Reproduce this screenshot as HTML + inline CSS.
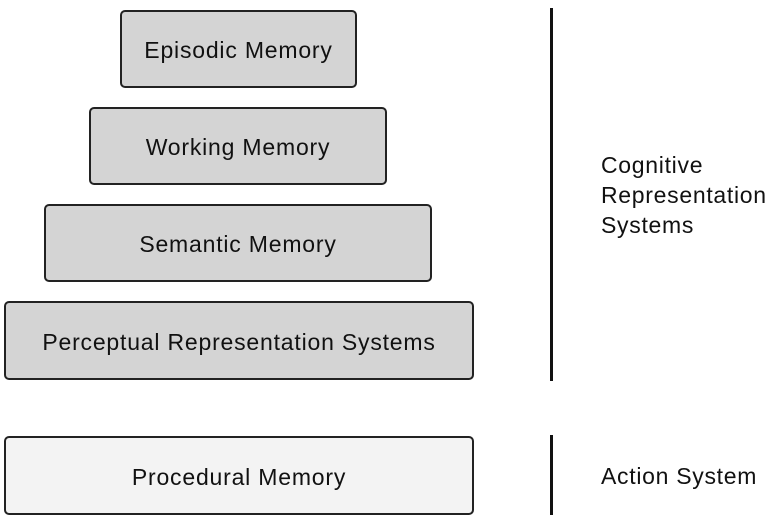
<!DOCTYPE html>
<html><head><style>
body{margin:0;width:771px;height:516px;background:#fff;position:relative;overflow:hidden;font-family:"Liberation Sans",sans-serif;}
.b{position:absolute;box-sizing:border-box;border:2px solid #222;border-radius:5px;background:#d4d4d4;display:flex;align-items:center;justify-content:center;font-size:23px;letter-spacing:0.8px;color:#111;padding-top:3px;}
.l{position:absolute;background:#111;width:3px;}
.t{position:absolute;font-size:23px;letter-spacing:0.7px;color:#111;line-height:30px;}
</style></head><body>
<div class="b" style="left:120px;top:10px;width:237px;height:78px">Episodic Memory</div>
<div class="b" style="left:89px;top:107px;width:298px;height:78px">Working Memory</div>
<div class="b" style="left:44px;top:204px;width:388px;height:78px">Semantic Memory</div>
<div class="b" style="left:4px;top:301px;width:470px;height:79px">Perceptual Representation Systems</div>
<div class="b" style="left:4px;top:436px;width:470px;height:79px;background:#f3f3f3">Procedural Memory</div>
<div class="l" style="left:550px;top:8px;height:373px"></div>
<div class="l" style="left:550px;top:435px;height:80px"></div>
<div class="t" style="left:601px;top:150px">Cognitive<br>Representation<br>Systems</div>
<div class="t" style="left:601px;top:461px">Action System</div>
</body></html>
